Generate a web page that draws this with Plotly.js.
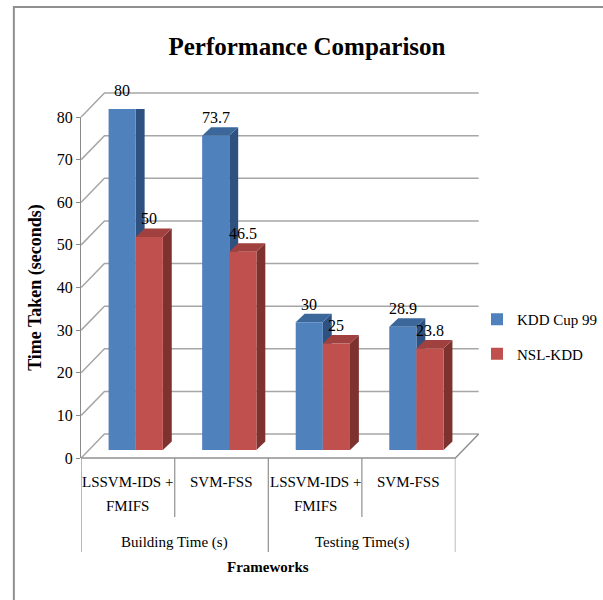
<!DOCTYPE html>
<html><head><meta charset="utf-8">
<script src="https://cdn.plot.ly/plotly-3.0.1.min.js"></script>
<style>html,body{margin:0;padding:0;background:#fff}</style>
</head><body><div id="chart" style="width:603px;height:600px"></div>
<script>
// ---- data ----
const subLabels = [['LSSVM-IDS +','FMIFS'],['SVM-FSS'],['LSSVM-IDS +','FMIFS'],['SVM-FSS']];
const groupLabels = ['Building Time (s)','Testing Time(s)'];
const seriesNames = ['KDD Cup 99','NSL-KDD'];
const kddCup99 = [80, 73.7, 30, 28.9];
const nslKdd = [50, 46.5, 25, 23.8];
const yTicks = [0,10,20,30,40,50,60,70,80];

// ---- geometry (pixels) ----
const W=603, H=600;
const FX0=82, FX1=460, FY0=458, FY80=117;
const PXU=(FY0-FY80)/80;
const DX=23.5, DY=24;          // wall depth
const BF=1/3;                  // bar plane depth fraction
const BDX=9, BDY=8.5;          // bar depth
const px=x=>x/W, py=y=>1-y/H;
const FONT="'Liberation Serif', 'Times New Roman', serif";
const colors={blue:{front:'#4F81BD',top:'#3C679B',side:'#2F5180'},red:{front:'#C0504D',top:'#A0413F',side:'#7D3230'}};

const xs=kddCup99.map((_,i)=>i);
const nCat=xs.length;
const ux=nCat/(FX1-FX0), uy=1/PXU;

const traces=[
  {type:'bar',name:seriesNames[0],x:xs,y:kddCup99,xaxis:'x2',yaxis:'y2',marker:{color:colors.blue.front,line:{width:0}},legendgroup:'a',hoverinfo:'none'},
  {type:'bar',name:seriesNames[1],x:xs,y:nslKdd,xaxis:'x2',yaxis:'y2',marker:{color:colors.red.front,line:{width:0}},legendgroup:'b',hoverinfo:'none'}
];

const shapes=[];
// outer frame
shapes.push({type:'rect',xref:'paper',yref:'paper',x0:px(14),x1:1.05,y0:-0.05,y1:py(7),line:{color:'#8f8f8f',width:2},layer:'below'});
// grid: diagonal + back wall lines
yTicks.forEach(t=>{
  const y=FY0-t*PXU;
  shapes.push({type:'path',xref:'paper',yref:'paper',layer:'below',
    path:`M ${px(FX0)} ${py(y)} L ${px(FX0+DX)} ${py(y-DY)} L ${px(FX1+DX)} ${py(y-DY)}`,
    line:{color:'#a6a6a6',width:1.5}});
});
// floor front edge and right edge
shapes.push({type:'path',xref:'paper',yref:'paper',layer:'below',
  path:`M ${px(FX0)} ${py(FY0)} L ${px(FX1)} ${py(FY0)} L ${px(FX1+DX)} ${py(FY0-DY)}`,
  line:{color:'#909090',width:1.5}});
// category dividers
for(let k=0;k<=nCat;k++){
  const long=(k%2===0);
  shapes.push({type:'line',xref:'x',yref:'paper',x0:k-0.5,x1:k-0.5,y0:py(FY0),y1:py(long?552:517),line:{color:'#909090',width:1.2},layer:'below'});
}
// bar 3D faces
const bw=0.29, ddx=BDX*ux, ddy=BDY*uy;
[[kddCup99,-bw,colors.blue],[nslKdd,0,colors.red]].forEach(([vals,off,c])=>{
  vals.forEach((v,i)=>{
    const xl=i+off, xr=xl+bw;
    shapes.push({type:'path',xref:'x2',yref:'y2',layer:'below',fillcolor:c.side,line:{width:0},
      path:`M ${xr} 0 L ${xr+ddx} ${ddy} L ${xr+ddx} ${v+ddy} L ${xr} ${v} Z`});
    shapes.push({type:'path',xref:'x2',yref:'y2',layer:'below',fillcolor:c.top,line:{width:0},
      path:`M ${xl} ${v} L ${xl+ddx} ${v+ddy} L ${xr+ddx} ${v+ddy} L ${xr} ${v} Z`});
  });
});

const annotations=[];
// data labels
[[kddCup99,-bw/2],[nslKdd,bw/2]].forEach(([vals,off])=>{
  vals.forEach((v,i)=>annotations.push({xref:'x2',yref:'y2',x:i+off,y:v,yshift:18,yanchor:'middle',text:String(v),showarrow:false,font:{family:FONT,size:16,color:'#000'}}));
});
// category labels
subLabels.forEach((lines,i)=>{
  lines.forEach((ln,j)=>annotations.push({xref:'x',yref:'paper',x:i,y:py(482+24*j),yanchor:'middle',text:ln,showarrow:false,font:{family:FONT,size:15,color:'#000'}}));
});
groupLabels.forEach((g,k)=>annotations.push({xref:'x',yref:'paper',x:2*k+0.5,y:py(542),yanchor:'middle',text:g,showarrow:false,font:{family:FONT,size:15,color:'#000'}}));
annotations.push({xref:'x',yref:'paper',x:(nCat-1)/2,y:py(567),yanchor:'middle',text:'<b>Frameworks</b>',showarrow:false,font:{family:FONT,size:15,color:'#000'}});

const layout={
  width:W,height:H,margin:{l:0,r:0,t:0,b:0},
  paper_bgcolor:'#fff',plot_bgcolor:'rgba(0,0,0,0)',
  font:{family:FONT,color:'#000',size:14},
  title:{text:'<b>Performance Comparison</b>',x:px(307),xanchor:'center',y:py(46),yanchor:'middle',font:{family:FONT,size:25,color:'#000'}},
  barmode:'group',bargap:0.42,bargroupgap:0,
  xaxis:{domain:[px(FX0),px(FX1)],range:[-0.5,nCat-0.5],anchor:'y',showgrid:false,zeroline:false,showticklabels:false,showline:false,ticks:''},
  yaxis:{domain:[py(FY0),py(FY80)],range:[0,80],anchor:'x',tickvals:yTicks,showgrid:false,zeroline:false,showline:true,linecolor:'#8a8a8a',linewidth:1.2,ticks:'outside',ticklen:4,tickcolor:'#8a8a8a',tickfont:{family:FONT,size:16,color:'#000'},
    title:{text:'<b>Time Taken (seconds)</b>',standoff:10,font:{family:FONT,size:18,color:'#000'}}},
  xaxis2:{domain:[px(FX0+DX*BF),px(FX1+DX*BF)],range:[-0.5,nCat-0.5],anchor:'y2',visible:false},
  yaxis2:{domain:[py(FY0-DY*BF),py(FY80-DY*BF)],range:[0,80],anchor:'x2',visible:false},
  showlegend:true,
  legend:{x:px(482),y:py(303),xanchor:'left',yanchor:'top',font:{family:FONT,size:15,color:'#000'},traceorder:'grouped',tracegroupgap:12,bgcolor:'rgba(0,0,0,0)',itemwidth:30},
  shapes:shapes,annotations:annotations
};
Plotly.newPlot('chart',traces,layout,{staticPlot:true,displayModeBar:false});
</script></body></html>
